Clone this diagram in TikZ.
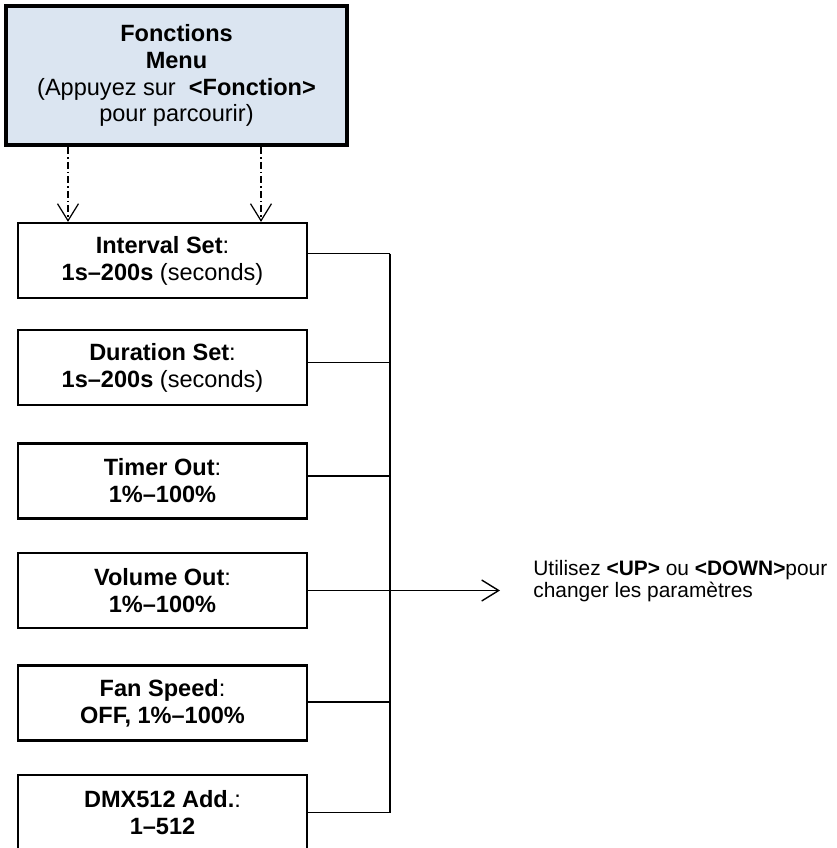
\documentclass[tikz,border=0pt]{standalone}
\usepackage{fontspec}
\setmainfont{Liberation Sans}
\usetikzlibrary{arrows.meta}

\definecolor{menublue}{RGB}{219,229,241}

\tikzset{
	menubox/.style = {draw, line width = 2.8pt, fill = menublue, minimum width = 6.82cm, minimum height = 2.78cm, align = center, inner sep = 0pt, font = \fontsize{13.4}{15.3}\selectfont},
	itembox/.style = {draw, line width = 1.3pt, minimum width = 5.78cm, minimum height = 1.5cm, align = center, inner sep = 0pt, font = \fontsize{13.4}{15.3}\selectfont},
	vtip/.style = {-{Straight Barb[length = 0.34cm, width = 0.42cm]}},
	dashdotline/.style = {line width = 0.7pt, dash pattern = on 0.14cm off 0.06cm on 0.03cm off 0.06cm}
}

\begin{document}
\begin{tikzpicture}[x = 0.02cm, y = -0.02cm]
	\useasboundingbox (0,0) rectangle (837,848);

	\node [menubox] (menu) at (176.5,75.5) {\textbf{Fonctions}\\\textbf{Menu}\\(Appuyez sur\ \ \textbf{<Fonction>}\\pour parcourir)};

	\node [itembox] (interval) at (162.5,260.5) {\textbf{Interval Set}:\\\textbf{1s–200s} (seconds)};
	\node [itembox] (duration) at (162.5,367.5) {\textbf{Duration Set}:\\\textbf{1s–200s} (seconds)};
	\node [itembox] (timer) at (162.5,481) {\textbf{Timer Out}:\\\textbf{1\%–100\%}};
	\node [itembox] (volume) at (162.5,590.5) {\textbf{Volume Out}:\\\textbf{1\%–100\%}};
	\node [itembox] (fan) at (162.5,703) {\textbf{Fan Speed}:\\\textbf{OFF, 1\%–100\%}};
	\node [itembox] (dmx) at (162.5,812.5) {\textbf{DMX512 Add.}:\\\textbf{1–512}};

	\coordinate (left) at (68,0);
	\coordinate (right) at (261,0);
	\coordinate (bus) at (390,0);
	\coordinate (tip) at (500,590.5);

	\node [anchor = west, align = left, inner sep = 0pt, font = \fontsize{11.9}{12.6}\selectfont] (note) at (533,581) {Utilisez \textbf{<UP>} ou \textbf{<DOWN>}pour\\changer les paramètres};

	% menu to first item
	\draw [dashdotline, vtip] (menu.south -| left) -- (interval.north -| left);
	\draw [dashdotline, vtip] (menu.south -| right) -- (interval.north -| right);

	% items to bus
	\foreach \item/\dy in {interval/7, duration/5, timer/5, fan/1, dmx/0}
		\draw [line width = 0.8pt] ([yshift = \dy*0.02cm]\item.east) -- ([yshift = \dy*0.02cm]\item.east -| bus);
	\draw [line width = 0.8pt] ([yshift = 0.14cm]interval.east -| bus) -- (dmx.east -| bus);
	\draw [line width = 0.8pt, vtip] (volume.east) -- (tip);
\end{tikzpicture}
\end{document}
